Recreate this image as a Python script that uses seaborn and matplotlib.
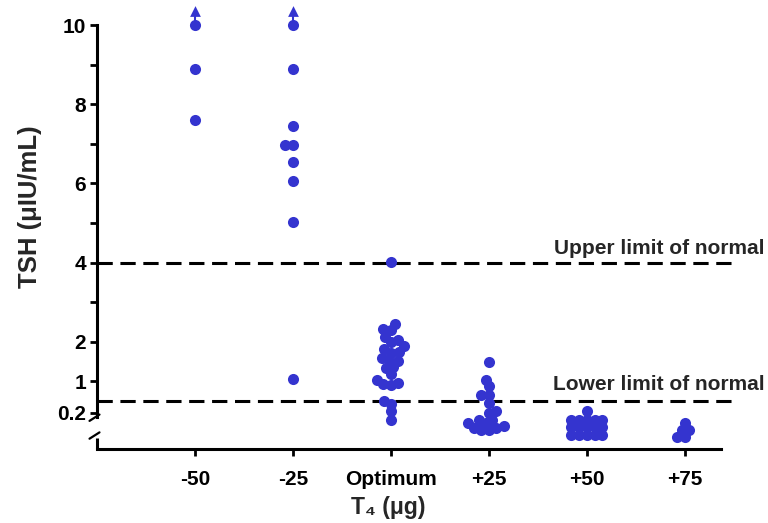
import matplotlib
matplotlib.use("Agg")
import matplotlib.pyplot as plt
import pandas as pd
import seaborn as sns

# T4 dose change vs optimum, and TSH
categories = ["-50", "-25", "Optimum", "+25", "+50", "+75"]
tsh_m50 = [10.0, 8.9, 7.6]
tsh_m25 = [10.0, 8.9, 7.45, 6.97, 6.97, 6.55, 6.05, 5.03, 1.05]
tsh_opt = [4.02, 2.44, 2.32, 2.29, 2.12, 2.05, 2.0, 1.88, 1.81, 1.75, 1.72,
           1.6, 1.52, 1.52, 1.37, 1.33, 1.19, 1.04, 0.95, 0.93, 0.91,
           0.51, 0.43, 0.24, 0.02]
tsh_p25 = [1.50, 1.04, 0.87, 0.66, 0.66, 0.45, 0.24, 0.19, 0.03, 0.03,
           -0.06, -0.06, -0.14, -0.18, -0.18, -0.23, -0.23]
tsh_p50 = [0.25, 0.03, 0.03, 0.03, 0.03, 0.03, -0.16, -0.16, -0.16, -0.16,
           -0.16, -0.35, -0.35, -0.35, -0.35, -0.35]
tsh_p75 = [-0.06, -0.23, -0.23, -0.40, -0.40]

# groups with values above the top of the scale (arrow)
above_scale = ["-50", "-25"]
above_tsh = [10.35, 10.35]

yticks = [0.2, 1, 2, 4, 6, 8, 10]
yminor = [3, 5, 7, 9]
upper_normal = 4.0
lower_normal = 0.5

BLUE = "#3434CF"

groups = [tsh_m50, tsh_m25, tsh_opt, tsh_p25, tsh_p50, tsh_p75]
df = pd.concat(
    [pd.DataFrame({"dose": c, "tsh": v}) for c, v in zip(categories, groups)],
    ignore_index=True,
)

sns.set_theme(style="ticks")
plt.rcParams["font.family"] = ["Liberation Sans", "DejaVu Sans"]
plt.rcParams["font.weight"] = "bold"
plt.rcParams["axes.labelweight"] = "bold"

fig = plt.figure(figsize=(7.68, 5.23), dpi=100)
ax = fig.add_axes([0.1263, 0.1415, 0.8125, 0.8485])

# swarm laid out with a smaller dot, then dots enlarged so they overlap
# like the original scatter
sns.swarmplot(data=df, x="dose", y="tsh", order=categories, color=BLUE,
              size=5.3, linewidth=0, ax=ax)
ax.set_xlim(-1.0, 5.37)
ax.set_ylim(-0.71, 10.5)
fig.canvas.draw()
for coll in ax.collections:
    if "draw" in coll.__dict__:
        del coll.draw
    coll.set_sizes([8 ** 2])

# off-scale arrows
xs = [categories.index(c) for c in above_scale]
ax.vlines(xs, 10.05, [v - 0.1 for v in above_tsh], color=BLUE, lw=1.5)
ax.scatter(xs, above_tsh, marker="^", s=60, color=BLUE, linewidths=0,
           clip_on=False, zorder=3)

sns.despine(ax=ax)
lw = 2.2
for s in ["left", "bottom"]:
    ax.spines[s].set_linewidth(lw)
    ax.spines[s].set_color("black")
ax.spines["left"].set_bounds(0.1, 10)

ytr = ax.get_yaxis_transform()
# lower piece of the broken y axis and break marks
ax.plot([0, 0], [-0.71, -0.43], transform=ytr, color="black", lw=lw,
        clip_on=False, solid_capstyle="butt")
ax.plot([-0.012, 0.004], [0.0, 0.16], transform=ytr, color="black", lw=1.6,
        clip_on=False)
ax.plot([-0.012, 0.004], [-0.45, -0.29], transform=ytr, color="black", lw=1.6,
        clip_on=False)

ax.set_yticks(yticks)
ax.set_yticklabels([f"{t:g}" for t in yticks])
ax.set_yticks(yminor, minor=True)
ax.tick_params(axis="both", which="both", direction="out", length=5,
               width=2, color="black", labelsize=15, labelcolor="black")
ax.tick_params(axis="y", pad=3)
ax.tick_params(axis="x", pad=10)

# limits of normal
for yv in [upper_normal, lower_normal]:
    ax.plot([0, 1.02], [yv, yv], transform=ytr, color="black", lw=lw,
            ls=(0, (5, 2.5)), clip_on=False, zorder=1)
ax.text(1.07, upper_normal + 0.22, "Upper limit of normal", transform=ytr,
        ha="right", va="baseline", fontsize=15, fontweight="bold")
ax.text(1.07, lower_normal + 0.28, "Lower limit of normal", transform=ytr,
        ha="right", va="baseline", fontsize=15, fontweight="bold")

ax.set_ylabel("TSH (μIU/mL)", fontsize=18.5)
ax.yaxis.set_label_coords(-0.088, 0.545)
ax.set_xlabel("T₄ (μg)", fontsize=16.5)
ax.xaxis.set_label_coords(0.467, -0.105)

fig.savefig("out.png", dpi=100)
